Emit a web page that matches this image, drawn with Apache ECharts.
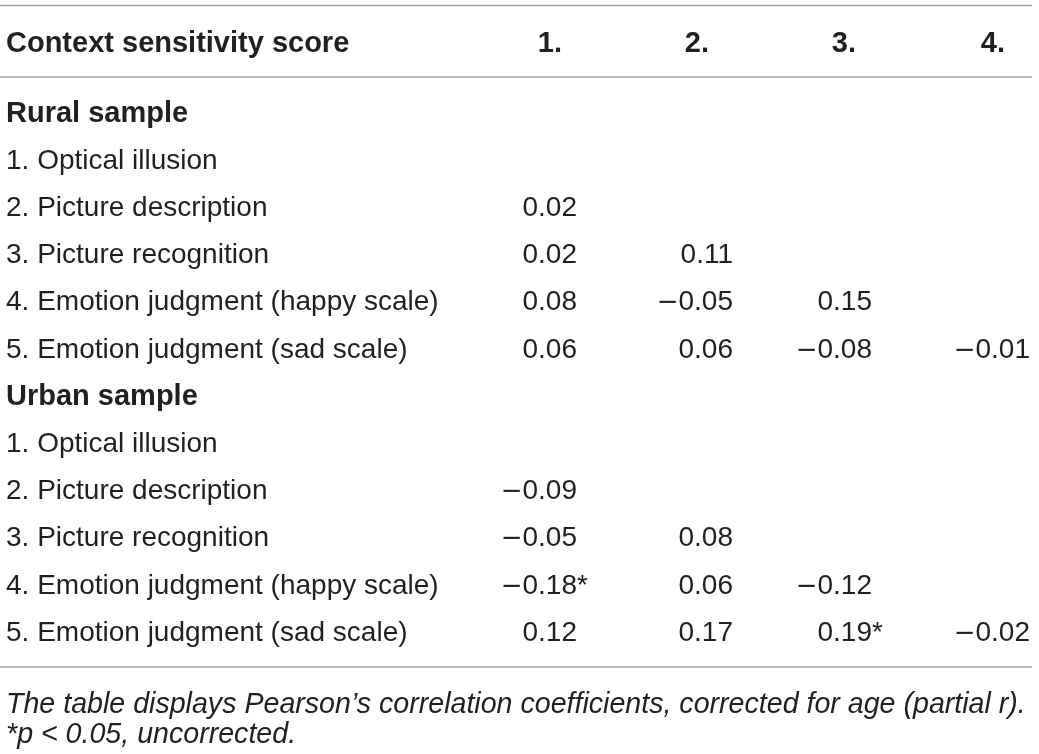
<!DOCTYPE html>
<html>
<head>
<meta charset="utf-8">
<script src="https://cdn.jsdelivr.net/npm/echarts@6/dist/echarts.min.js"></script>
<style>
  html, body { margin: 0; padding: 0; background: #fff; }
  #main { width: 1039px; height: 754px; }
</style>
</head>
<body>
<div id="main"></div>
<script>
// table content
var headLabels = ["Context sensitivity score", "1.", "2.", "3.", "4."];
var rowLabels = [
  "Rural sample",
  "1. Optical illusion",
  "2. Picture description",
  "3. Picture recognition",
  "4. Emotion judgment (happy scale)",
  "5. Emotion judgment (sad scale)",
  "Urban sample",
  "1. Optical illusion",
  "2. Picture description",
  "3. Picture recognition",
  "4. Emotion judgment (happy scale)",
  "5. Emotion judgment (sad scale)"
];
var sectionRows = [0, 6];
// lower triangle of partial correlations, one list per score row
var ruralR = [[], [0.02], [0.02, 0.11], [0.08, -0.05, 0.15], [0.06, 0.06, -0.08, -0.01]];
var urbanR = [[], [-0.09], [-0.05, 0.08], [-0.18, 0.06, -0.12], [0.12, 0.17, 0.19, -0.02]];
// p < 0.05 cells: [row offset inside section, column]
var urbanSig = [[4, 0], [5, 2]];
var footnote = [
  "The table displays Pearson\u2019s correlation coefficients, corrected for age (partial r).",
  "*p < 0.05, uncorrected."
];

// layout
var W = 1039;
var FONT = "'Liberation Sans', Arial, Helvetica, sans-serif";
var INK = "#231f20";
var RULE = "#a0a0a0";
var colRight = [577, 733, 872, 1030];   // right edge of each number column
var headRight = [562, 709, 856, 1005];  // right edge of column headings

// minus drawn with DejaVu's wider glyph, closer to the typeset one
function fmt(v) {
  return (v < 0 ? "{m|\u2212}" : "") + Math.abs(v).toFixed(2);
}

var cells = [];
function addSection(start, vals) {
  vals.forEach(function (row, r) {
    row.forEach(function (v, c) {
      cells.push([colRight[c], start + 1 + r, fmt(v)]);
    });
  });
}
addSection(sectionRows[0], ruralR);
addSection(sectionRows[1], urbanR);

var stars = urbanSig.map(function (s) {
  return [colRight[s[1]], sectionRows[1] + s[0], "*"];
});

var chart = echarts.init(document.getElementById("main"), null, { renderer: "canvas" });

var graphics = [
  { type: "line", shape: { x1: 0, y1: 5.5, x2: 1032, y2: 5.5 }, style: { stroke: RULE, lineWidth: 1.5 } },
  { type: "line", shape: { x1: 0, y1: 77, x2: 1032, y2: 77 }, style: { stroke: RULE, lineWidth: 1.5 } },
  { type: "line", shape: { x1: 0, y1: 667, x2: 1032, y2: 667 }, style: { stroke: RULE, lineWidth: 1.5 } },
  {
    type: "text", x: 6, y: 44,
    style: { text: headLabels[0], font: "bold 29px " + FONT, fill: INK, textAlign: "left", textVerticalAlign: "middle" }
  }
];
headRight.forEach(function (x, i) {
  graphics.push({
    type: "text", x: x, y: 44,
    style: { text: headLabels[i + 1], font: "bold 29px " + FONT, fill: INK, textAlign: "right", textVerticalAlign: "middle" }
  });
});
footnote.forEach(function (t, i) {
  graphics.push({
    type: "text", x: 6, y: 705 + i * 30,
    style: { text: t, font: "italic 28.6px " + FONT, fill: INK, textAlign: "left", textVerticalAlign: "middle" }
  });
});

var cellLabel = {
  show: true,
  distance: 0,
  formatter: function (p) { return p.value[2]; },
  fontSize: 28,
  fontFamily: FONT,
  color: INK,
  rich: {
    m: { fontFamily: "'DejaVu Sans'", fontSize: 26, color: INK, padding: [2, 0, 0, 0] }
  }
};

chart.setOption({
  animation: false,
  backgroundColor: "#fff",
  grid: { left: 0, right: 0, top: 90.2, bottom: 97.4 },
  xAxis: { type: "value", min: 0, max: W, show: false },
  yAxis: {
    type: "category",
    data: rowLabels,
    inverse: true,
    axisLine: { show: false },
    axisTick: { show: false },
    splitLine: { show: false },
    axisLabel: {
      inside: true,
      interval: 0,
      margin: 6,
      fontSize: 28,
      fontFamily: FONT,
      color: INK,
      formatter: function (v, i) {
        return sectionRows.indexOf(i) >= 0 ? "{b|" + v + "}" : v;
      },
      rich: { b: { fontWeight: "bold", fontSize: 29, fontFamily: FONT, color: INK } }
    }
  },
  series: [
    {
      type: "scatter",
      symbolSize: 0,
      itemStyle: { opacity: 1 },
      data: cells,
      label: Object.assign({ position: "left" }, cellLabel)
    },
    {
      type: "scatter",
      symbolSize: 0,
      itemStyle: { opacity: 1 },
      data: stars,
      label: Object.assign({ position: "right" }, cellLabel)
    }
  ],
  graphic: graphics
});
</script>
</body>
</html>
